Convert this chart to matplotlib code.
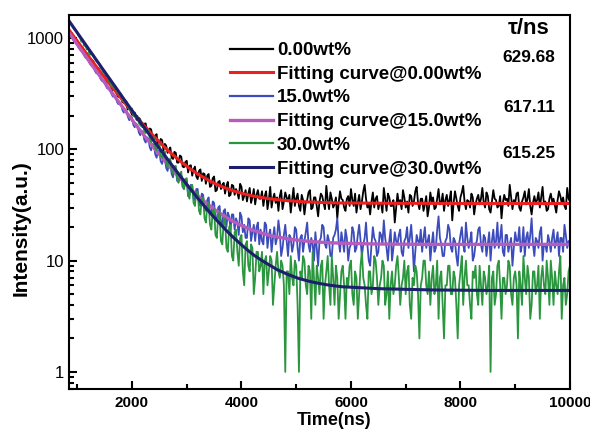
import numpy as np
import matplotlib
matplotlib.use("Agg")
import matplotlib.pyplot as plt
from matplotlib.ticker import LogLocator, NullFormatter, FixedLocator

plt.rcParams['font.family'] = ['Liberation Sans', 'DejaVu Sans']

# time bins of the decay data (ns)
time_ns = np.arange(850, 10001, 25)

# counts, 20 bins (500 ns) per row
counts_000 = [
    1150, 1128, 1110, 1041, 1002, 990, 951, 889, 858, 842, 818, 760, 735, 731, 702, 650, 628, 633, 610, 560,
    541, 538, 525, 482, 470, 470, 455, 418, 398, 405, 391, 357, 340, 352, 344, 312, 296, 310, 301, 266,
    262, 263, 246, 228, 239, 220, 205, 201, 214, 188, 182, 192, 186, 166, 158, 170, 171, 146, 139, 154,
    151, 128, 122, 132, 137, 104, 108, 124, 121, 98, 112, 108, 93, 99, 104, 84, 82, 95, 93, 76,
    76, 88, 86, 70, 69, 77, 79, 62, 71, 72, 58, 66, 70, 57, 54, 64, 66, 52, 61, 60,
    49, 58, 60, 46, 47, 55, 57, 42, 43, 51, 52, 44, 48, 50, 40, 47, 51, 38, 39, 48,
    47, 39, 44, 41, 36, 49, 46, 35, 38, 43, 34, 40, 45, 33, 37, 44, 32, 39, 43, 36,
    36, 42, 31, 38, 42, 29, 35, 46, 30, 36, 40, 33, 37, 28, 38, 43, 29, 34, 41, 37,
    34, 39, 27, 35, 45, 31, 36, 40, 31, 28, 39, 35, 26, 33, 35, 41, 43, 29, 30, 37,
    37, 31, 25, 34, 40, 38, 33, 29, 47, 35, 29, 41, 36, 30, 32, 37, 24, 33, 42, 36,
    35, 30, 28, 36, 38, 31, 44, 35, 31, 40, 27, 33, 39, 29, 34, 42, 48, 36, 30, 33,
    26, 34, 41, 30, 36, 38, 29, 33, 33, 27, 45, 36, 28, 40, 37, 31, 31, 35, 22, 30,
    40, 32, 35, 29, 43, 37, 30, 34, 27, 39, 38, 31, 34, 42, 46, 33, 29, 36, 36, 28,
    32, 38, 25, 30, 41, 34, 37, 29, 30, 36, 44, 32, 33, 40, 28, 35, 39, 31, 35, 42,
    23, 33, 42, 36, 31, 28, 37, 41, 47, 34, 29, 35, 34, 30, 40, 37, 26, 32, 36, 39,
    32, 36, 45, 33, 30, 41, 38, 29, 27, 34, 43, 36, 35, 30, 31, 38, 24, 33, 39, 35,
    36, 31, 48, 37, 29, 35, 33, 40, 41, 30, 28, 34, 37, 42, 32, 36, 44, 31, 26, 33,
    38, 33, 35, 41, 30, 37, 46, 32, 34, 28, 29, 36, 40, 34, 36, 31, 27, 35, 42, 38,
    33, 37, 31, 29, 45, 36, 34]

counts_150 = [
    1098, 1062, 1040, 971, 930, 905, 890, 822, 790, 771, 760, 702, 668, 668, 650, 597, 570, 570, 556, 505,
    482, 490, 476, 430, 412, 420, 405, 370, 352, 360, 347, 316, 298, 310, 300, 268, 255, 264, 257, 226,
    214, 228, 222, 196, 183, 198, 192, 166, 158, 170, 164, 142, 134, 147, 143, 122, 115, 128, 124, 104,
    98, 112, 110, 90, 84, 97, 95, 78, 74, 86, 83, 68, 64, 76, 75, 60, 56, 67, 66, 52,
    51, 60, 58, 46, 44, 54, 53, 38, 39, 48, 47, 36, 35, 44, 44, 33, 31, 40, 39, 29,
    28, 35, 37, 27, 26, 34, 33, 24, 23, 30, 31, 22, 21, 28, 29, 20, 27, 25, 19, 26,
    26, 19, 24, 22, 17, 27, 25, 18, 21, 16, 16, 24, 23, 15, 18, 21, 15, 20, 22, 14,
    19, 15, 14, 22, 21, 13, 17, 19, 12, 16, 20, 14, 16, 23, 18, 11, 13, 17, 21, 15,
    11, 17, 16, 12, 14, 20, 19, 13, 10, 16, 17, 12, 15, 18, 22, 14, 12, 16, 14, 10,
    18, 13, 9, 15, 16, 21, 20, 14, 13, 17, 15, 11, 11, 16, 17, 19, 24, 15, 12, 18,
    15, 12, 19, 16, 10, 13, 14, 20, 18, 12, 13, 17, 21, 15, 11, 14, 16, 22, 14, 10,
    9, 14, 20, 16, 15, 11, 12, 18, 17, 14, 23, 16, 13, 10, 15, 19, 10, 13, 18, 15,
    14, 17, 19, 12, 11, 15, 16, 20, 13, 16, 21, 14, 8, 12, 17, 15, 14, 19, 12, 16,
    20, 13, 15, 17, 10, 14, 18, 12, 13, 19, 25, 16, 14, 11, 11, 15, 16, 21, 19, 13,
    12, 16, 15, 11, 9, 14, 17, 20, 14, 12, 22, 16, 13, 15, 18, 10, 11, 14, 15, 19,
    20, 14, 12, 17, 16, 11, 14, 18, 10, 15, 19, 13, 15, 22, 13, 16, 21, 12, 11, 17,
    17, 12, 14, 16, 9, 13, 18, 15, 15, 20, 12, 14, 20, 11, 16, 18, 13, 17, 24, 14,
    11, 16, 15, 13, 18, 20, 10, 14, 14, 12, 17, 15, 12, 16, 19, 13, 15, 18, 11, 16,
    16, 12, 21, 17, 13, 15, 14]

counts_300 = [
    1398, 1352, 1330, 1241, 1190, 1178, 1128, 1040, 1012, 925, 962, 851, 858, 790, 820, 702, 727, 724, 700, 645,
    620, 600, 596, 545, 528, 490, 505, 466, 445, 418, 432, 370, 380, 355, 368, 330, 322, 311, 316, 282,
    275, 265, 270, 240, 231, 226, 233, 200, 196, 190, 200, 172, 165, 160, 171, 145, 140, 149, 148, 126,
    116, 121, 128, 104, 98, 110, 112, 88, 84, 94, 96, 76, 70, 81, 82, 64, 60, 70, 71, 55,
    50, 59, 63, 47, 44, 54, 55, 39, 36, 47, 48, 33, 31, 42, 41, 28, 26, 36, 37, 24,
    22, 31, 33, 21, 19, 28, 29, 17, 16, 26, 27, 15, 14, 23, 24, 13, 12, 20, 21, 11,
    10, 18, 19, 12, 9, 16, 17, 8, 6, 14, 15, 9, 8, 14, 13, 5, 7, 12, 12, 8,
    9, 12, 5, 10, 11, 6, 8, 11, 10, 4, 6, 9, 12, 8, 7, 10, 9, 6, 1, 8,
    8, 5, 11, 7, 6, 10, 9, 4, 1, 8, 7, 11, 10, 6, 5, 9, 8, 3, 12, 7,
    4, 9, 7, 5, 9, 10, 3, 6, 8, 11, 6, 4, 11, 7, 4, 9, 7, 3, 5, 8,
    9, 6, 3, 7, 6, 9, 10, 5, 4, 8, 7, 3, 5, 9, 12, 7, 6, 4, 3, 8,
    8, 5, 6, 11, 10, 7, 4, 6, 7, 10, 9, 4, 5, 8, 3, 6, 8, 5, 6, 9,
    11, 7, 4, 6, 7, 10, 5, 8, 9, 4, 3, 7, 6, 9, 8, 5, 2, 6, 7, 10,
    10, 6, 5, 8, 4, 7, 9, 5, 6, 10, 3, 7, 8, 4, 2, 6, 6, 9, 9, 5,
    5, 8, 7, 4, 2, 6, 8, 11, 4, 7, 10, 6, 6, 4, 3, 8, 7, 9, 5, 4,
    9, 6, 4, 8, 7, 5, 6, 9, 1, 7, 8, 4, 5, 9, 10, 6, 3, 7, 7, 5,
    6, 10, 9, 5, 4, 7, 8, 6, 2, 8, 6, 4, 11, 7, 5, 9, 7, 3, 4, 8,
    8, 5, 6, 9, 3, 7, 9, 6, 5, 10, 7, 4, 10, 7, 4, 8, 6, 5, 8, 11,
    3, 6, 7, 4, 5, 8, 9]

# fitted curves, sampled coarser
fit_time = np.r_[np.arange(850, 5851, 100), 6500, 7500, 8500, 10000]
fit_000 = [1183, 1014, 870, 747, 642, 553, 477, 412, 356, 309,
           268, 234, 204, 179, 158, 139, 124, 110, 98.6, 89.0,
           80.6, 73.6, 67.6, 62.5, 58.1, 54.3, 51.1, 48.4, 46.1, 44.1,
           42.4, 41.0, 39.8, 38.7, 37.8, 37.0, 36.4, 35.8, 35.3, 34.9,
           34.6, 34.3, 34.0, 33.8, 33.6, 33.5, 33.3, 33.2, 33.1, 33.0,
           33.0, 32.8, 32.7, 32.6, 32.6]
fit_150 = [1114, 949, 809, 691, 589, 503, 430, 368, 315, 270,
           232, 199, 171, 148, 128, 110.8, 96.3, 84.0, 73.5, 64.6,
           57.0, 50.6, 45.1, 40.5, 36.5, 33.1, 30.3, 27.8, 25.8, 24.0,
           22.5, 21.2, 20.2, 19.2, 18.5, 17.8, 17.2, 16.7, 16.3, 16.0,
           15.7, 15.44, 15.22, 15.04, 14.89, 14.75, 14.64, 14.55, 14.46, 14.39,
           14.33, 14.1, 14.0, 14.0, 14.0]
fit_300 = [1425, 1212, 1031, 877, 746, 635, 540, 460, 392, 334,
           284, 242, 207, 176, 151, 129, 110, 94.9, 81.4, 70.0,
           60.3, 52.1, 45.1, 39.1, 34.1, 29.8, 26.1, 23.0, 20.4, 18.1,
           16.2, 14.6, 13.2, 12.0, 11.0, 10.2, 9.5, 8.9, 8.3, 7.9,
           7.5, 7.2, 6.9, 6.7, 6.5, 6.34, 6.2, 6.08, 5.98, 5.89,
           5.82, 5.6, 5.45, 5.4, 5.4]

labels = ['0.00wt%', 'Fitting curve@0.00wt%', '15.0wt%',
          'Fitting curve@15.0wt%', '30.0wt%', 'Fitting curve@30.0wt%']
taus = ['629.68', '617.11', '615.25']

fig = plt.figure(figsize=(5.9, 4.3), dpi=100)
ax = fig.add_axes([0.117, 0.095, 0.849, 0.870])

ax.plot(time_ns, counts_000, color='black', lw=1.3, label=labels[0])
ax.plot(fit_time, fit_000, color='#ec2020', lw=2.2, label=labels[1])
ax.plot(time_ns, counts_150, color='#3c4cbc', lw=1.3, label=labels[2])
ax.plot(fit_time, fit_150, color='#b85cbc', lw=2.4, label=labels[3])
ax.plot(time_ns, counts_300, color='#2a963e', lw=1.3, label=labels[4])
ax.plot(fit_time, fit_300, color='#1e1e6e', lw=2.2, label=labels[5])

ax.set_yscale('log')
ax.set_xlim(850, 10000)
ax.set_ylim(0.70, 1610)
ax.set_xticks([2000, 4000, 6000, 8000, 10000])
ax.xaxis.set_minor_locator(FixedLocator([1000, 3000, 5000, 7000, 9000]))
ax.yaxis.set_minor_locator(LogLocator(base=10, subs=np.arange(2, 10), numticks=20))
ax.yaxis.set_minor_formatter(NullFormatter())
ax.set_yticks([1, 10, 100, 1000])
ax.set_yticklabels(['1', '10', '100', '1000'])

ax.tick_params(which='both', direction='in', top=False, right=False, width=1.5)
ax.tick_params(which='major', length=6)
ax.tick_params(which='minor', length=3.5)
ax.tick_params(axis='y', labelsize=12)
ax.tick_params(axis='x', labelsize=11, pad=5)
for lab in ax.get_xticklabels():
    lab.set_fontweight('bold')
for s in ax.spines.values():
    s.set_linewidth(1.5)

ax.set_xlabel('Time(ns)', fontsize=13, fontweight='bold')
ax.set_ylabel('Intensity(a.u.)', fontsize=15, fontweight='bold')
ax.xaxis.set_label_coords(0.53, -0.0615)
ax.yaxis.set_label_coords(-0.076, 0.43)

leg = ax.legend(loc='upper left', bbox_to_anchor=(230 / 590, 1 - 42 / 430),
                bbox_transform=fig.transFigure, frameon=False,
                borderpad=0, borderaxespad=0, handlelength=2.3,
                handletextpad=0.2, labelspacing=0.35,
                prop={'size': 13.5, 'weight': 'bold'})
for h in leg.get_lines():
    h.set_linewidth(max(h.get_linewidth(), 1.6))

fig.text(529 / 590, 1 - 28 / 430, 'τ/ns', fontsize=16, fontweight='bold',
         ha='center', va='center')
for ty, tv in zip([58, 108, 154], taus):
    fig.text(529 / 590, 1 - ty / 430, tv, fontsize=12.4, fontweight='bold',
             ha='center', va='center')

fig.savefig('out.png', dpi=100)
